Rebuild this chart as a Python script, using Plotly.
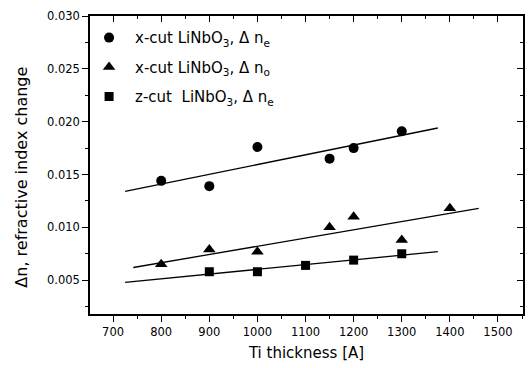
import plotly.graph_objects as go

# --- data ---
xe_thk = [800, 900, 1000, 1150, 1200, 1300]
xe_dn = [0.0144, 0.0139, 0.0176, 0.0165, 0.0175, 0.0191]
xo_thk = [800, 900, 1000, 1150, 1200, 1300, 1400]
xo_dn = [0.0065, 0.0079, 0.0077, 0.0100, 0.0110, 0.0088, 0.0118]
ze_thk = [900, 1000, 1100, 1200, 1300]
ze_dn = [0.0058, 0.0058, 0.0064, 0.0069, 0.0075]

xe_fit_x = [725, 1375]
xe_fit_y = [0.0134, 0.0194]
xo_fit_x = [742, 1460]
xo_fit_y = [0.0062, 0.0118]
ze_fit_x = [725, 1375]
ze_fit_y = [0.0048, 0.0077]

names = ["x-cut LiNbO<sub>3</sub>, \u0394 n<sub>e</sub>",
         "x-cut LiNbO<sub>3</sub>, \u0394 n<sub>o</sub>",
         "z-cut\u00a0 LiNbO<sub>3</sub>, \u0394 n<sub>e</sub>"]

x_ticks = [700, 800, 900, 1000, 1100, 1200, 1300, 1400, 1500]
y_ticks = [0.005, 0.010, 0.015, 0.020, 0.025, 0.030]
x_range = [652, 1552]
y_range = [0.0018, 0.0300]

x_title = "Ti thickness [A]"
y_title = "\u0394n, refractive index change"

FAM = "DejaVu Sans, Arial, sans-serif"

fig = go.Figure()
for fx, fy in [(xe_fit_x, xe_fit_y), (xo_fit_x, xo_fit_y), (ze_fit_x, ze_fit_y)]:
    fig.add_trace(go.Scatter(x=fx, y=fy, mode="lines", showlegend=False,
                             line=dict(color="black", width=1.3), hoverinfo="skip"))
for xs, ys, sym, sz, nm, grp in [(xe_thk, xe_dn, "circle", 10, names[0], "a"),
                                 (xo_thk, xo_dn, "triangle-up", 11, names[1], "b"),
                                 (ze_thk, ze_dn, "square", 9, names[2], "c")]:
    fig.add_trace(go.Scatter(x=xs, y=ys, mode="markers", name=nm, legendgroup=grp,
                             marker=dict(symbol=sym, size=sz, color="black")))

# invisible trace on mirror axes
fig.add_trace(go.Scatter(x=[x_range[0]], y=[y_range[0]], xaxis="x2", yaxis="y2",
                         mode="markers", marker=dict(opacity=0), showlegend=False, hoverinfo="skip"))

axis_common = dict(showgrid=False, zeroline=False, showline=True, linecolor="black", linewidth=1.5,
                   ticklen=6, tickwidth=1.2, tickcolor="black")
fig.update_layout(
    width=532, height=368,
    margin=dict(l=90, r=9, t=15, b=52),
    paper_bgcolor="white", plot_bgcolor="white",
    font=dict(family=FAM, color="black", size=11.5),
    xaxis=dict(**axis_common, range=x_range, tickvals=x_ticks, ticks="outside",
               minor=dict(dtick=50, ticks="outside", ticklen=3, tickcolor="black", tickwidth=1),
               title=dict(text=x_title, font=dict(size=15), standoff=10),
               tickfont=dict(size=11.5)),
    yaxis=dict(**axis_common, range=y_range, tickvals=y_ticks, tickformat=".3f", ticks="outside",
               minor=dict(dtick=0.0025, ticks="outside", ticklen=3, tickcolor="black", tickwidth=1),
               tickfont=dict(size=11.5)),
    xaxis2=dict(**axis_common, range=x_range, tickvals=x_ticks, ticks="inside", side="top",
                overlaying="x", showticklabels=False,
                minor=dict(dtick=50, ticks="inside", ticklen=3, tickcolor="black", tickwidth=1)),
    yaxis2=dict(**axis_common, range=y_range, tickvals=y_ticks, ticks="inside", side="right",
                overlaying="y", showticklabels=False,
                minor=dict(dtick=0.0025, ticks="inside", ticklen=3, tickcolor="black", tickwidth=1)),
    legend=dict(x=-0.016, y=0.982, xanchor="left", yanchor="top", bgcolor="rgba(0,0,0,0)",
                font=dict(size=15), itemwidth=42, tracegroupgap=7),
    annotations=[dict(text=y_title, textangle=-90, xref="paper", yref="paper",
                      x=-0.159, y=0.458, xanchor="center", yanchor="middle",
                      showarrow=False, font=dict(size=16))],
    showlegend=True,
)
fig.write_html("out.html")
